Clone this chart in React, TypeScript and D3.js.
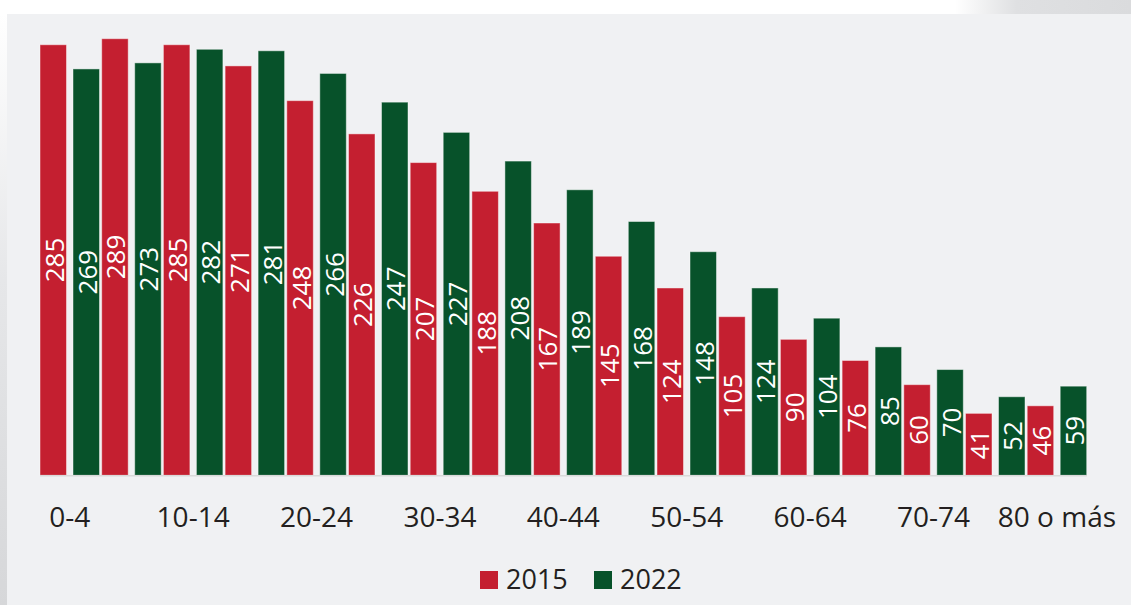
import React, { useEffect, useRef } from "react";
import * as d3 from "d3";

const ageGroups = [
  "0-4", "5-9", "10-14", "15-19", "20-24", "25-29", "30-34", "35-39", "40-44",
  "45-49", "50-54", "55-59", "60-64", "65-69", "70-74", "75-79", "80 o más",
];
const values2015 = [285, 289, 285, 271, 248, 226, 207, 188, 167, 145, 124, 105, 90, 76, 60, 41, 46];
const values2022 = [269, 273, 282, 281, 266, 247, 227, 208, 189, 168, 148, 124, 104, 85, 70, 52, 59];
const seriesNames = ["2015", "2022"];
const tickLabels = ["0-4", "10-14", "20-24", "30-34", "40-44", "50-54", "60-64", "70-74", "80 o más"];

const RED = "#c41f30";
const GREEN = "#07522a";
const FONT = "'Open Sans', sans-serif";

const App = () => {
  const svgRef = useRef<SVGSVGElement>(null);

  useEffect(() => {
    const svg = d3.select(svgRef.current);
    svg.selectAll("*").remove();

    const width = 1131;
    const height = 605;
    const baseY = 475.3;

    // background pieces
    const defs = svg.append("defs");
    const lg = defs.append("linearGradient").attr("id", "leftShade").attr("x1", 0).attr("y1", 0).attr("x2", 0).attr("y2", 1);
    lg.append("stop").attr("offset", "0").attr("stop-color", "#ffffff");
    lg.append("stop").attr("offset", "0.45").attr("stop-color", "#e6e7e9");
    lg.append("stop").attr("offset", "1").attr("stop-color", "#d6d7d9");
    const tg = defs.append("linearGradient").attr("id", "topShade").attr("x1", 0).attr("y1", 0).attr("x2", 1).attr("y2", 0);
    tg.append("stop").attr("offset", "0").attr("stop-color", "#ffffff");
    tg.append("stop").attr("offset", "0.35").attr("stop-color", "#dfe0e2");
    tg.append("stop").attr("offset", "1").attr("stop-color", "#dadbdd");

    svg.append("rect").attr("width", width).attr("height", height).attr("fill", "#ffffff");
    svg.append("rect").attr("x", 0).attr("y", 14).attr("width", 7).attr("height", height - 14).attr("fill", "url(#leftShade)");
    svg.append("rect").attr("x", 955).attr("y", 0).attr("width", width - 955).attr("height", 14).attr("fill", "url(#topShade)");
    svg.append("rect").attr("x", 7).attr("y", 14).attr("width", width - 7).attr("height", height - 14).attr("fill", "#f0f1f3");

    // Scales
    const x0 = d3.scaleBand().domain(ageGroups).range([40, 40 + 17 * 61.7]).padding(0);
    const x1 = d3.scaleBand().domain(seriesNames).range([0, 59.5]).paddingInner(0.197).paddingOuter(0);
    const y = d3.scaleLinear().domain([0, 289]).range([baseY, 38.7]);

    const rows = ageGroups.map((g, i) => ({ group: g, vals: [values2015[i], values2022[i]] }));
    const color = d3.scaleOrdinal<string>().domain(seriesNames).range([RED, GREEN]);

    const groups = svg.selectAll(".grp")
      .data(rows)
      .enter().append("g")
      .attr("class", "grp")
      .attr("transform", d => `translate(${x0(d.group)},0)`);

    const cells = groups.selectAll(".cell")
      .data(d => seriesNames.map((s, k) => ({ s, v: d.vals[k] })))
      .enter().append("g");

    cells.append("rect")
      .attr("x", d => x1(d.s)!)
      .attr("y", d => y(d.v))
      .attr("width", x1.bandwidth())
      .attr("height", d => baseY - y(d.v))
      .attr("fill", d => color(d.s))
      .attr("stroke", "rgba(255,255,255,0.45)")
      .attr("stroke-width", 1);

    // value labels, rotated, centered in bar
    cells.append("text")
      .attr("transform", d => `translate(${x1(d.s)! + x1.bandwidth() / 2 + 0.5},${(y(d.v) + baseY) / 2}) rotate(-90)`)
      .attr("text-anchor", "middle")
      .attr("dominant-baseline", "central")
      .attr("fill", "#ffffff")
      .style("font-family", FONT)
      .style("font-size", "26px")
      .text(d => d.v);

    // baseline
    svg.append("line")
      .attr("x1", 40).attr("x2", x0.range()[1] - 2)
      .attr("y1", baseY + 0.5).attr("y2", baseY + 0.5)
      .attr("stroke", "#d9d9d9").attr("stroke-width", 1.5);

    // X-axis labels (every other category)
    svg.selectAll(".xlab")
      .data(tickLabels)
      .enter().append("text")
      .attr("x", d => x0(d)! + 59.5 / 2)
      .attr("y", 527)
      .attr("text-anchor", "middle")
      .attr("fill", "#231f20")
      .style("font-family", FONT)
      .style("font-size", "28px")
      .text(d => d);

    // Legend
    const legendX = [480, 594];
    const leg = svg.selectAll(".leg")
      .data(seriesNames)
      .enter().append("g")
      .attr("transform", (d, i) => `translate(${legendX[i]},571)`);
    leg.append("rect").attr("width", 18).attr("height", 18).attr("fill", d => color(d));
    leg.append("text")
      .attr("x", 26).attr("y", 18)
      .attr("fill", "#231f20")
      .style("font-family", FONT)
      .style("font-size", "27px")
      .text(d => d);
  }, []);

  return <svg ref={svgRef} width={1131} height={605} style={{ position: "absolute", left: 0, top: 0 }}></svg>;
};

export default App;
